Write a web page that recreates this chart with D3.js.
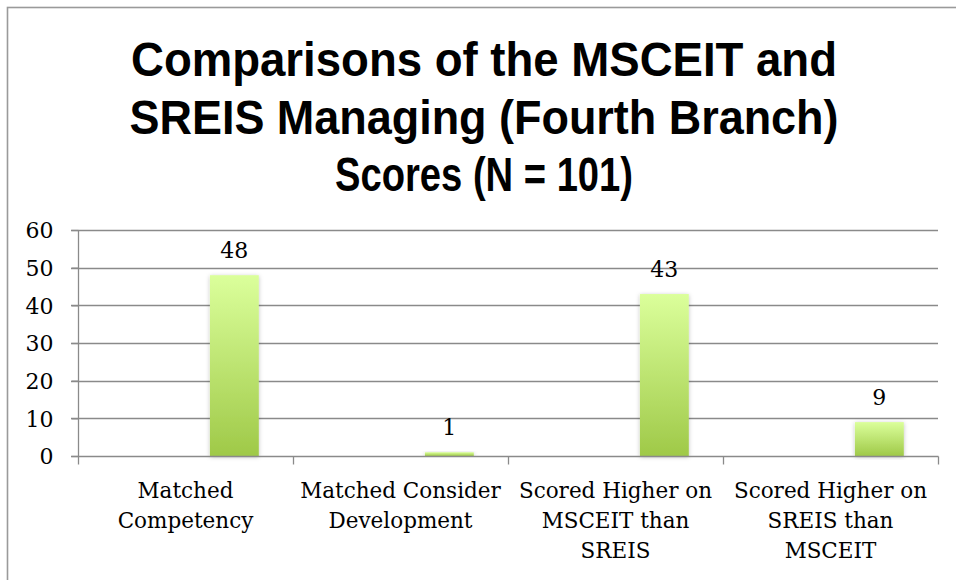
<!DOCTYPE html>
<html>
<head>
<meta charset="utf-8">
<script src="https://cdn.jsdelivr.net/npm/d3@7"></script>
<style>
  html, body { margin: 0; padding: 0; background: #fff; }
  svg { display: block; }
</style>
</head>
<body>
<svg id="chart" width="956" height="580"></svg>
<script>
// ---- data ----
const titleLines = ["Comparisons of the MSCEIT and", "SREIS Managing (Fourth Branch)", "Scores (N = 101)"];
const categories = ["Matched Competency", "Matched Consider Development", "Scored Higher on MSCEIT than SREIS", "Scored Higher on SREIS than MSCEIT"];
const categoryLines = [["Matched", "Competency"], ["Matched Consider", "Development"], ["Scored Higher on", "MSCEIT than", "SREIS"], ["Scored Higher on", "SREIS than", "MSCEIT"]];
const seriesNames = ["s1", "s2", "Count"];
const values = [48, 1, 43, 9];
const yTicks = [0, 10, 20, 30, 40, 50, 60];

// ---- layout ----
const svg = d3.select("#chart");
const plot = { left: 78, right: 938, top: 230, bottom: 456 };
const serif = "'DejaVu Serif', 'Liberation Serif', serif";
const gridColor = "#8a8a8a";

// frame (extends beyond viewport on right/bottom)
svg.append("rect")
  .attr("x", 7.5).attr("y", 7.5).attr("width", 1000).attr("height", 700)
  .attr("fill", "none").attr("stroke", "#9a9a9a").attr("stroke-width", 1.6);

// gradient + shadow
const defs = svg.append("defs");
const grad = defs.append("linearGradient").attr("id", "barGrad")
  .attr("x1", 0).attr("y1", 0).attr("x2", 0).attr("y2", 1);
grad.append("stop").attr("offset", "0%").attr("stop-color", "#dbff9b");
grad.append("stop").attr("offset", "100%").attr("stop-color", "#9fc948");
const f = defs.append("filter").attr("id", "shadow")
  .attr("x", "-30%").attr("y", "-10%").attr("width", "160%").attr("height", "120%");
f.append("feDropShadow").attr("dx", 0).attr("dy", 1).attr("stdDeviation", 2)
  .attr("flood-color", "#000").attr("flood-opacity", 0.25);

// scales
const x = d3.scaleBand().domain(categories).range([plot.left, plot.right]).paddingInner(0).paddingOuter(0);
const y = d3.scaleLinear().domain([0, 60]).range([plot.bottom, plot.top]);
// each category holds a cluster of 3 series; only the third carries data
const inner = d3.scaleBand().domain(seriesNames)
  .range([0, x.bandwidth()]).paddingInner(0).paddingOuter(0.7);

// gridlines
svg.append("g").selectAll("line").data(yTicks.filter(d => d > 0)).join("line")
  .attr("x1", plot.left - 7).attr("x2", plot.right)
  .attr("y1", d => Math.round(y(d)) + 0.5).attr("y2", d => Math.round(y(d)) + 0.5)
  .attr("stroke", gridColor).attr("stroke-width", 1.3);

// y axis
const yAxis = svg.append("g").attr("transform", `translate(${plot.left + 0.5},0)`)
  .call(d3.axisLeft(y).tickValues(yTicks).tickSize(7).tickPadding(18));
yAxis.select(".domain").attr("stroke", gridColor).attr("stroke-width", 1.3)
  .attr("d", `M0,${plot.top}V${plot.bottom}`);
yAxis.selectAll(".tick line").attr("stroke", gridColor).attr("stroke-width", 1.3);
yAxis.selectAll(".tick text").attr("font-family", serif).attr("font-size", 22)
  .attr("fill", "#000").attr("dy", "0.36em");

// bars
const bars = svg.append("g");
bars.selectAll("rect").data(values).join("rect")
  .attr("x", (d, i) => x(categories[i]) + inner("Count"))
  .attr("width", inner.bandwidth())
  .attr("y", d => y(d))
  .attr("height", d => y(0) - y(d))
  .attr("fill", "url(#barGrad)")
  .attr("filter", "url(#shadow)");

// x axis
const xAxis = svg.append("g").attr("transform", `translate(0,${Math.round(y(0)) + 0.5})`);
xAxis.append("line").attr("x1", plot.left - 7).attr("x2", plot.right + 0.5)
  .attr("stroke", gridColor).attr("stroke-width", 1.6);
const boundaries = categories.map(c => x(c)).concat([plot.right]);
xAxis.selectAll("line.tk").data(boundaries).join("line").attr("class", "tk")
  .attr("x1", d => Math.round(d) + 0.5).attr("x2", d => Math.round(d) + 0.5)
  .attr("y1", 0).attr("y2", 8)
  .attr("stroke", gridColor).attr("stroke-width", 1.3);

// category labels
const catG = svg.append("g");
categoryLines.forEach((lines, i) => {
  const cx = x(categories[i]) + x.bandwidth() / 2;
  const t = catG.append("text").attr("text-anchor", "middle")
    .attr("font-family", serif).attr("font-size", 21.5).attr("fill", "#000");
  lines.forEach((ln, j) => {
    t.append("tspan").attr("x", cx).attr("y", 498 + j * 30).text(ln);
  });
});

// value labels
svg.append("g").selectAll("text").data(values).join("text")
  .attr("x", (d, i) => x(categories[i]) + inner("Count") + inner.bandwidth() / 2)
  .attr("y", d => y(d) - 17)
  .attr("text-anchor", "middle")
  .attr("font-family", serif).attr("font-size", 22).attr("fill", "#000")
  .text(d => d);

// title
const titleWidths = [706, 709, 298];
const titleG = svg.append("g");
titleLines.forEach((ln, i) => {
  const t = titleG.append("text")
    .attr("x", 484).attr("y", 76 + i * 57.5)
    .attr("text-anchor", "middle")
    .attr("font-family", "'Liberation Sans', Arial, sans-serif")
    .attr("font-weight", "bold").attr("font-size", 48).attr("fill", "#000")
    .text(ln);
  const w = t.node().getComputedTextLength();
  if (Math.abs(w - titleWidths[i]) > 4) {
    t.attr("textLength", titleWidths[i]).attr("lengthAdjust", "spacingAndGlyphs");
  }
});
</script>
</body>
</html>
